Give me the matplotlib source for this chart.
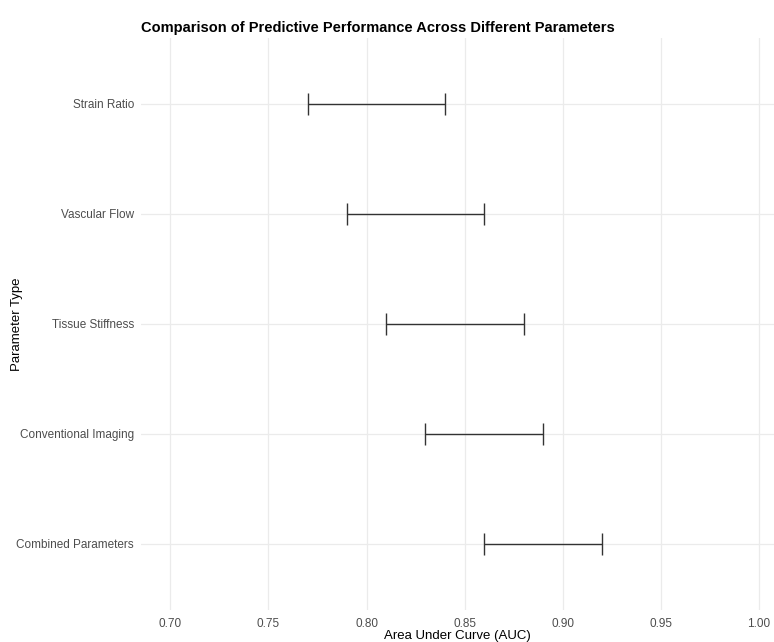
import matplotlib.pyplot as plt

plt.rcParams['font.family'] = ['Liberation Sans', 'DejaVu Sans']

# data (top to bottom as drawn)
parameters = ["Strain Ratio", "Vascular Flow", "Tissue Stiffness",
              "Conventional Imaging", "Combined Parameters"]
auc_lower = [0.77, 0.79, 0.81, 0.83, 0.86]
auc_upper = [0.84, 0.86, 0.88, 0.89, 0.92]
x_ticks = [0.70, 0.75, 0.80, 0.85, 0.90, 0.95, 1.00]

fig = plt.figure(figsize=(7.74, 6.42), dpi=100)
ax = fig.add_axes([0.182, 0.050, 0.818, 0.891])

# categories from bottom (0) to top (n-1)
n = len(parameters)
ypos = [n - 1 - i for i in range(n)]
cap = 0.1
for y, lo, hi in zip(ypos, auc_lower, auc_upper):
    ax.hlines(y, lo, hi, color="#333333", lw=1.0, zorder=3)
    ax.vlines([lo, hi], y - cap, y + cap, color="#333333", lw=1.0, zorder=3)

ax.set_xlim(0.685, 1.0076)
ax.set_ylim(-0.6, n - 1 + 0.6)
ax.set_xticks(x_ticks)
ax.set_xticklabels([f"{t:.2f}" for t in x_ticks])
ax.set_yticks(ypos)
ax.set_yticklabels(parameters)

ax.grid(True, color="#ebebeb", lw=0.9)
ax.set_axisbelow(True)
for s in ax.spines.values():
    s.set_visible(False)
ax.tick_params(axis="both", length=0, labelsize=8.5, labelcolor="#4d4d4d")
ax.tick_params(axis="x", pad=6)
ax.tick_params(axis="y", pad=5)

ax.set_xlabel("Area Under Curve (AUC)", fontsize=9.5, labelpad=0)
ax.set_ylabel("Parameter Type", fontsize=9.5)
ax.yaxis.set_label_coords(-0.186, 0.5)
ax.set_title("Comparison of Predictive Performance Across Different Parameters",
             fontsize=10.5, fontweight="bold", loc="left", pad=4)

fig.savefig("out.png", dpi=100)
